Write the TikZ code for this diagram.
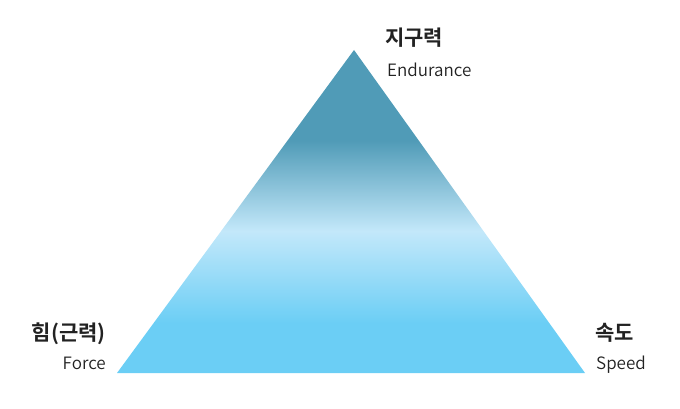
\documentclass[tikz,border=0pt]{standalone}
\usepackage{fontspec}
\setmainfont{Noto Sans CJK KR}
\newfontfamily\krbold{Noto Sans CJK KR Bold}
\newfontfamily\enfont{Noto Sans CJK KR DemiLight}
\usetikzlibrary{positioning}
\definecolor{tealtop}{HTML}{509BB7}
\definecolor{lightmid}{HTML}{C3E8FA}
\definecolor{skybot}{HTML}{6BCEF5}
\definecolor{txt}{HTML}{222222}
\pgfdeclareverticalshading{tri}{100bp}{
  color(0bp)=(skybot); color(25bp)=(skybot); color(32.75bp)=(skybot);
  color(47bp)=(lightmid); color(61bp)=(tealtop); color(75bp)=(tealtop); color(100bp)=(tealtop)}
\tikzset{
  kr/.style={font=\krbold\fontsize{21}{23}\selectfont, text=txt, inner sep=0pt},
  en/.style={font=\enfont\fontsize{17}{19}\selectfont, text=txt, inner sep=0pt}
}
\begin{document}
\begin{tikzpicture}[x=1pt,y=-1pt]
\useasboundingbox (0,0) rectangle (680,409);
\coordinate (apex) at (354,50);
\coordinate (bl) at (117,373);
\coordinate (br) at (585,373);
\shade[shading=tri] (apex) -- (br) -- (bl) -- cycle;
\node[kr, anchor=base west] (endk) at (385,46) {지구력};
\node[en, anchor=base west] (ende) at (387,77) {Endurance};
\node[kr, anchor=base east] (forcek) at (106,340) {힘(근력)};
\node[en, anchor=base east] (forcee) at (106,369) {Force};
\node[kr, anchor=base west] (speedk) at (595,340) {속도};
\node[en, anchor=base west] (speede) at (596,369) {Speed};
\end{tikzpicture}
\end{document}
